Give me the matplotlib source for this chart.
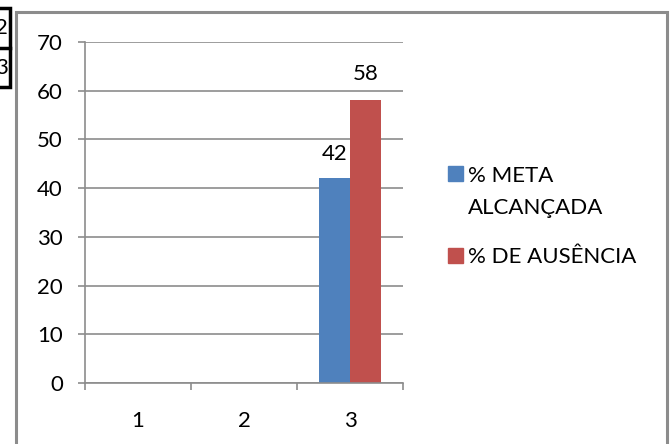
import matplotlib.pyplot as plt
import numpy as np
from matplotlib.patches import Rectangle

plt.rcParams['font.family'] = ['Lato', 'DejaVu Sans']

categories = ['1', '2', '3']
meta_alcancada = [0, 0, 42]
ausencia = [0, 0, 58]
series_names = ['% META\nALCANÇADA', '% DE AUSÊNCIA']
labelled = [False, False, True]

BLUE = '#4f81bd'
RED = '#c0504d'
GRAY = '#8c8c8c'
FS = 16
W, H = 671, 444

fig = plt.figure(figsize=(W / 100, H / 100), dpi=100)
ax = fig.add_axes([85 / W, 1 - 383 / H, 318 / W, 341 / H])

x = np.arange(len(categories))
w = 0.29
ax.bar(x - w / 2, meta_alcancada, w, color=BLUE, zorder=3)
ax.bar(x + w / 2, ausencia, w, color=RED, zorder=3)

# data labels only where the bars are drawn
for i, show in enumerate(labelled):
    if show:
        ax.text(x[i] - w / 2, meta_alcancada[i] + 3.7, str(meta_alcancada[i]),
                ha='center', va='baseline', fontsize=FS)
        ax.text(x[i] + w / 2, ausencia[i] + 4.1, str(ausencia[i]),
                ha='center', va='baseline', fontsize=FS)

ax.set_ylim(0, 70)
ax.set_xlim(-0.5, len(categories) - 0.5)
ax.set_yticks(np.arange(0, 71, 10))
ax.set_xticks(x)
ax.set_xticklabels(categories)
ax.set_xticks(np.arange(-0.5, len(categories), 1), minor=True)
ax.tick_params(axis='x', which='major', length=0, pad=20, labelsize=FS)
ax.tick_params(axis='x', which='minor', length=5, color=GRAY, width=1.2, direction='out')
ax.tick_params(axis='y', length=5, color=GRAY, width=1.2, pad=11, labelsize=FS)
ax.grid(axis='y', color=GRAY, linewidth=1.2, zorder=0)
for s in ['top', 'right']:
    ax.spines[s].set_visible(False)
for s in ['left', 'bottom']:
    ax.spines[s].set_color(GRAY)
    ax.spines[s].set_linewidth(1.2)
ax.spines['bottom'].set_zorder(4)

# legend, laid out like the original (marker beside first text line)
legend_rows = [(BLUE, 174), (RED, 255)]
for (color, yc), name in zip(legend_rows, series_names):
    fig.patches.append(Rectangle((448 / W, 1 - (yc + 7.5) / H), 15 / W, 15 / H,
                                 transform=fig.transFigure, color=color))
    for k, line in enumerate(name.split('\n')):
        fig.text(468 / W, 1 - (yc + 8 + 32 * k) / H, line, ha='left', va='baseline',
                 fontsize=FS)

# outer chart frame
fig.patches.append(Rectangle((16 / W, -0.05), 651 / W, 1.05 - 12 / H,
                             transform=fig.transFigure, fill=False,
                             edgecolor=GRAY, linewidth=2.2))

# fragment of a neighbouring table at the left edge
fig.patches.append(Rectangle((-0.05, 1 - 87 / H), 0.05 + 10 / W, 79 / H,
                             transform=fig.transFigure, fill=False,
                             edgecolor='black', linewidth=2.5))
fig.lines.append(plt.Line2D([0, 10 / W], [1 - 48 / H, 1 - 48 / H],
                            transform=fig.transFigure, color='black', linewidth=2.5))
fig.text(8 / W, 1 - 28 / H, '2', ha='right', va='center', fontsize=FS)
fig.text(8 / W, 1 - 68 / H, '3', ha='right', va='center', fontsize=FS)

fig.savefig('out.png', dpi=100)
